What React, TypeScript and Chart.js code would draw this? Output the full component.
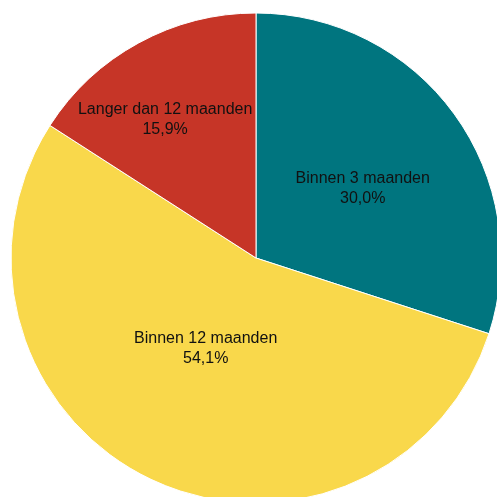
import React, { useEffect, useRef } from "react";
import { Chart, registerables } from "chart.js";

Chart.register(...registerables);

const categories = ["Binnen 3 maanden", "Binnen 12 maanden", "Langer dan 12 maanden"];
const values = [30.0, 54.1, 15.9];
const valueLabels = ["30,0%", "54,1%", "15,9%"];
const colors = ["#00757f", "#f9d84b", "#c63527"];
const labelRadiusFraction = [0.52, 0.424, 0.675];
const labelAngleShiftDeg = [2.9, 3.6, -4.7];

const labelPlugin = {
  id: "sliceLabels",
  afterDatasetsDraw(chart: any) {
    const ctx = chart.ctx;
    const meta = chart.getDatasetMeta(0);
    ctx.save();
    ctx.font = "16px 'Liberation Sans', Arial, sans-serif";
    ctx.fillStyle = "#111111";
    ctx.textAlign = "center";
    ctx.textBaseline = "middle";
    meta.data.forEach((arc: any, i: number) => {
      const p = arc.getProps(["x", "y", "startAngle", "endAngle", "outerRadius"], true);
      const mid = (p.startAngle + p.endAngle) / 2 + (labelAngleShiftDeg[i] * Math.PI) / 180;
      const r = p.outerRadius * labelRadiusFraction[i];
      const x = p.x + Math.cos(mid) * r;
      const y = p.y + Math.sin(mid) * r;
      ctx.fillText(categories[i], x, y - 10);
      ctx.fillText(valueLabels[i], x, y + 10);
    });
    ctx.restore();
  },
};

export default function App() {
  const ref = useRef<HTMLCanvasElement>(null);
  useEffect(() => {
    document.body.style.overflow = "hidden";
    const chart = new Chart(ref.current!, {
      type: "pie",
      data: {
        labels: categories,
        datasets: [
          {
            data: values,
            backgroundColor: colors,
            borderColor: "#ffffff",
            borderWidth: 1,
          },
        ],
      },
      options: {
        animation: false,
        responsive: false,
        radius: 245,
        layout: { padding: 0 },
        plugins: { legend: { display: false }, tooltip: { enabled: false } },
      },
      plugins: [labelPlugin],
    });
    return () => chart.destroy();
  }, []);
  return (
    <div style={{ position: "fixed", left: 0, top: 0, width: 497, height: 497, overflow: "hidden", background: "#fff" }}>
      <canvas ref={ref} width={512} height={516} style={{ position: "absolute", left: 0, top: 0, width: 512, height: 516 }} />
    </div>
  );
}
